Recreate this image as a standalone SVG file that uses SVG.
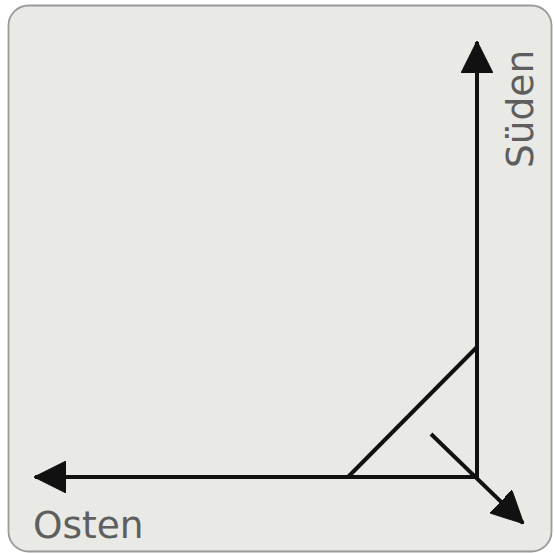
<svg xmlns="http://www.w3.org/2000/svg" width="554" height="554" viewBox="0 0 554 554">
<style>
.ax{stroke:#111;stroke-width:4;fill:none;stroke-linecap:butt}
.lbl{font-family:"DejaVu Sans",Verdana,sans-serif;font-size:37.5px;fill:#5e5e5e}
</style>
<defs>
<marker id="ah" viewBox="0 0 32 32" refX="31" refY="16" markerWidth="32" markerHeight="32" markerUnits="userSpaceOnUse" orient="auto">
<path d="M0,0 L32,16 L0,32 Z" fill="#111" stroke="#111" stroke-width="1" stroke-linejoin="round"/>
</marker>
</defs>
<rect x="0" y="0" width="554" height="554" fill="#ffffff"/>
<rect id="frame" x="8.5" y="5.5" width="543" height="546" rx="20" ry="20" fill="#e9e9e6" stroke="#9a9a9a" stroke-width="1.8"/>
<g id="connectors">
<line class="ax" x1="477" y1="479" x2="477" y2="42" marker-end="url(#ah)"/>
<line class="ax" x1="479" y1="477" x2="35" y2="477" marker-end="url(#ah)"/>
<line class="ax" x1="477" y1="347" x2="348" y2="477"/>
<line class="ax" x1="431" y1="434" x2="523" y2="523" marker-end="url(#ah)"/>
</g>
<g id="osten"><text class="lbl" x="33" y="538">Osten</text></g>
<g id="sueden"><text class="lbl" transform="translate(533,168) rotate(-90)" x="0" y="0">Süden</text></g>
</svg>
